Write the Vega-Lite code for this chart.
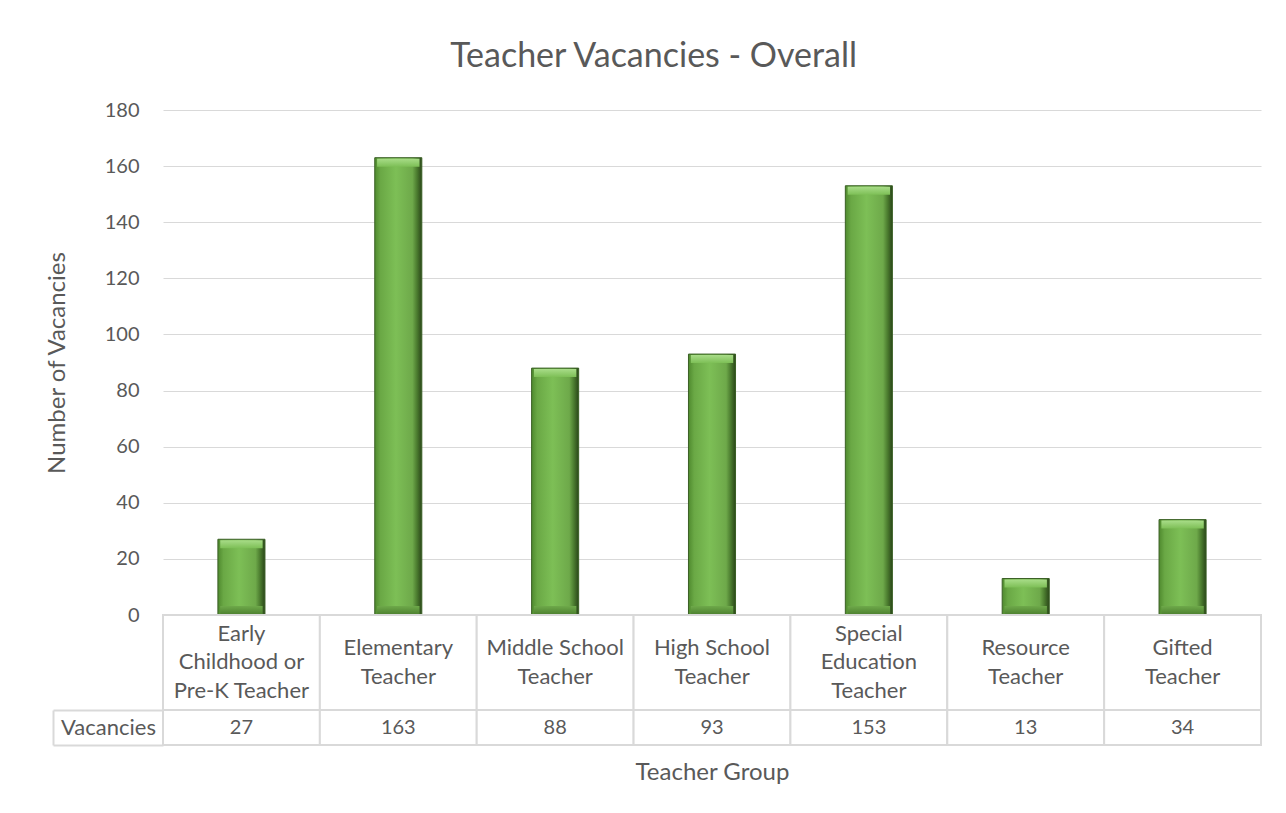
{
  "$schema": "https://vega.github.io/schema/vega-lite/v6.json",
  "background": "white",
  "padding": {"left": 45, "top": 40, "right": 26, "bottom": 20},
  "bounds": "flush",
  "title": {"text": "Teacher Vacancies - Overall", "anchor": "middle", "fontSize": 34, "font": "Lato", "fontWeight": "normal", "color": "#595959", "offset": 26},
  "data": {"values": [
    {"group": "Early Childhood or Pre-K Teacher", "label": ["Early", "Childhood or", "Pre-K Teacher"], "row": "Vacancies", "vacancies": 27},
    {"group": "Elementary Teacher", "label": ["Elementary", "Teacher"], "row": "Vacancies", "vacancies": 163},
    {"group": "Middle School Teacher", "label": ["Middle School", "Teacher"], "row": "Vacancies", "vacancies": 88},
    {"group": "High School Teacher", "label": ["High School", "Teacher"], "row": "Vacancies", "vacancies": 93},
    {"group": "Special Education Teacher", "label": ["Special", "Education", "Teacher"], "row": "Vacancies", "vacancies": 153},
    {"group": "Resource Teacher", "label": ["Resource", "Teacher"], "row": "Vacancies", "vacancies": 13},
    {"group": "Gifted Teacher", "label": ["Gifted", "Teacher"], "row": "Vacancies", "vacancies": 34}
  ]},
  "config": {"font": "Lato", "view": {"stroke": null}},
  "spacing": 0,
  "vconcat": [
    {
      "width": 1098, "height": 505,
      "encoding": {
        "x": {"field": "group", "type": "nominal", "sort": null, "scale": {"paddingInner": 0, "paddingOuter": 0}, "axis": null}
      },
      "layer": [
        {
          "mark": {"type": "bar", "width": {"band": 0.3},
            "color": {"gradient": "linear", "x1": 0, "x2": 1, "y1": 0, "y2": 0,
              "stops": [
                {"offset": 0, "color": "#4f8a2e"},
                {"offset": 0.12, "color": "#6aa845"},
                {"offset": 0.45, "color": "#7dbf56"},
                {"offset": 0.8, "color": "#6ea94a"},
                {"offset": 0.9, "color": "#4a7a2e"},
                {"offset": 1, "color": "#2a4619"}
              ]},
            "stroke": "#3a5f25", "strokeWidth": 1},
          "encoding": {
            "y": {"field": "vacancies", "type": "quantitative", "scale": {"domain": [0, 180]},
              "axis": {"values": [0, 20, 40, 60, 80, 100, 120, 140, 160, 180], "title": "Number of Vacancies",
                "grid": true, "gridColor": "#d9d9d9", "gridWidth": 1, "domain": false, "ticks": false,
                "labelPadding": 24, "labelFontSize": 20, "labelColor": "#595959",
                "titleFontSize": 24, "titleColor": "#595959", "titleFontWeight": "normal", "titlePadding": 35}}
          }
        },
        {
          "mark": {"type": "bar", "width": {"band": 0.27}, "yOffset": 1, "y2Offset": 9,
            "color": {"gradient": "linear", "x1": 0, "x2": 0, "y1": 0, "y2": 1,
              "stops": [
                {"offset": 0, "color": "#a8dc88"},
                {"offset": 1, "color": "#7dbf56"}
              ]}},
          "encoding": {
            "y": {"field": "vacancies", "type": "quantitative"},
            "y2": {"field": "vacancies"}
          }
        },
        {
          "mark": {"type": "bar", "width": {"band": 0.27}, "yOffset": -1, "y2Offset": -9,
            "color": {"gradient": "linear", "x1": 0, "x2": 0, "y1": 0, "y2": 1,
              "stops": [
                {"offset": 0, "color": "#6ea94a"},
                {"offset": 1, "color": "#4f8331"}
              ]}},
          "encoding": {
            "y": {"datum": 0, "type": "quantitative"},
            "y2": {"datum": 0}
          }
        }
      ]
    },
    {
      "width": 1098, "height": 95,
      "layer": [
        {"mark": {"type": "rect", "fill": "white", "stroke": "#d9d9d9", "strokeWidth": 2},
         "encoding": {"x": {"field": "group", "type": "nominal", "sort": null, "scale": {"paddingInner": 0, "paddingOuter": 0}, "axis": null}}},
        {"transform": [{"filter": "length(datum.label) == 3"}],
         "mark": {"type": "text", "fontSize": 22, "color": "#595959", "lineHeight": 28.5, "baseline": "middle", "dy": -29},
         "encoding": {"x": {"field": "group", "type": "nominal", "sort": null}, "text": {"field": "label"}}},
        {"transform": [{"filter": "length(datum.label) == 2"}],
         "mark": {"type": "text", "fontSize": 22, "color": "#595959", "lineHeight": 28.5, "baseline": "middle", "dy": -14.5},
         "encoding": {"x": {"field": "group", "type": "nominal", "sort": null}, "text": {"field": "label"}}}
      ]
    },
    {
      "width": 1098, "height": 35,
      "layer": [
        {"mark": {"type": "rect", "fill": "white", "stroke": "#d9d9d9", "strokeWidth": 2},
         "encoding": {
           "x": {"field": "group", "type": "nominal", "sort": null, "scale": {"paddingInner": 0, "paddingOuter": 0},
             "axis": {"labels": false, "ticks": false, "domain": false, "title": "Teacher Group", "titleFontSize": 24, "titleColor": "#595959", "titleFontWeight": "normal", "titlePadding": 15}},
           "y": {"field": "row", "type": "nominal", "scale": {"paddingInner": 0, "paddingOuter": 0},
             "axis": {"orient": "left", "title": null, "labelFontSize": 22, "labelColor": "#595959", "ticks": true, "tickSize": 110, "tickColor": "#d9d9d9", "tickWidth": 2, "tickBand": "extent", "domain": false, "labelAlign": "center", "labelPadding": -55}}
         }},
        {"mark": {"type": "text", "fontSize": 20, "color": "#595959", "baseline": "middle"},
         "encoding": {
           "x": {"field": "group", "type": "nominal", "sort": null},
           "y": {"field": "row", "type": "nominal", "axis": {"orient": "left", "offset": 110, "labels": false, "ticks": false, "domain": true, "domainColor": "#d9d9d9", "domainWidth": 2, "title": null}},
           "text": {"field": "vacancies", "type": "quantitative"}
         }}
      ],
      "resolve": {"axis": {"y": "independent"}}
    }
  ]
}
